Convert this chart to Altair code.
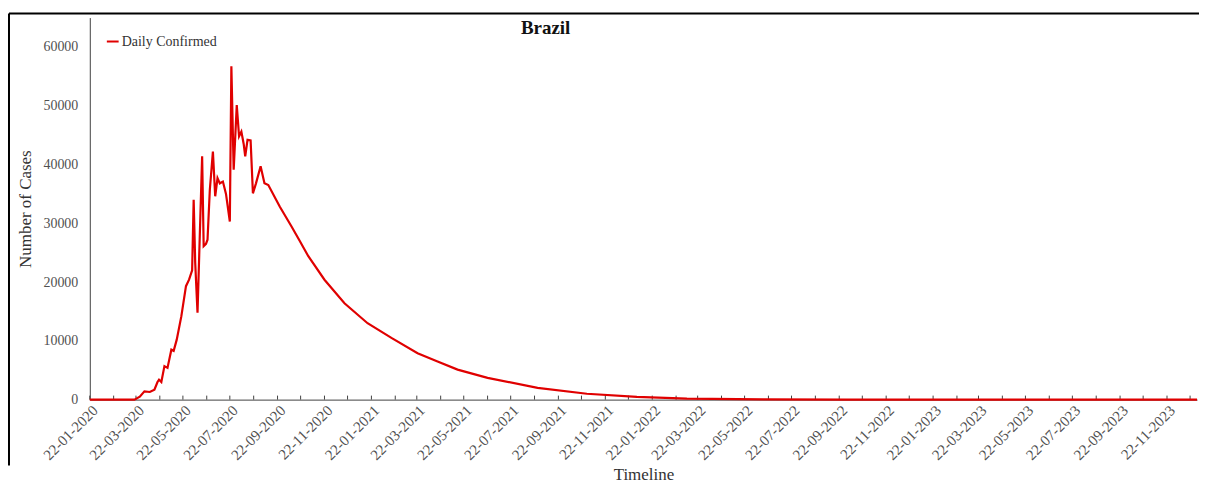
import altair as alt
import pandas as pd

TITLE = "Brazil"
SERIES = "Daily Confirmed"

dates = [
    "2020-01-22", "2020-03-20", "2020-03-27", "2020-04-02", "2020-04-09", "2020-04-15",
    "2020-04-19", "2020-04-21", "2020-04-24", "2020-04-28", "2020-05-02", "2020-05-07",
    "2020-05-10", "2020-05-14", "2020-05-20", "2020-05-26", "2020-05-30", "2020-06-03",
    "2020-06-05", "2020-06-07", "2020-06-10", "2020-06-16", "2020-06-18", "2020-06-21",
    "2020-06-23", "2020-06-26", "2020-06-30", "2020-07-03", "2020-07-06", "2020-07-09",
    "2020-07-13", "2020-07-17", "2020-07-22", "2020-07-24", "2020-07-27", "2020-07-31",
    "2020-08-03", "2020-08-06", "2020-08-09", "2020-08-11", "2020-08-14", "2020-08-18",
    "2020-08-21", "2020-08-25", "2020-08-31", "2020-09-05", "2020-09-10", "2020-09-25",
    "2020-10-10", "2020-10-20", "2020-11-01", "2020-11-22", "2020-12-18", "2021-01-17",
    "2021-02-17", "2021-03-23", "2021-04-18", "2021-05-14", "2021-06-22", "2021-08-26",
    "2021-10-29", "2022-01-02", "2022-03-08", "2022-06-15", "2022-10-01", "2023-12-31",
]
cases = [
    0, 0, 500, 1400, 1300, 1700,
    3000, 3400, 3000, 5700, 5400, 8500,
    8300, 10200, 14200, 19300, 20400, 22000,
    34000, 23300, 14800, 41400, 26100, 26500,
    27200, 35700, 42200, 34600, 37700, 36800,
    37100, 35000, 30300, 56700, 39100, 50100,
    44800, 45600, 43500, 41400, 44200, 44100,
    35100, 36800, 39700, 36800, 36500, 32800,
    29500, 27200, 24400, 20400, 16400, 13000,
    10500, 7900, 6500, 5100, 3700, 2000,
    1000, 450, 170, 50, 10, 0,
]

# tick labels every two months, minor ticks every month
label_dates = [f"{y}-{m:02d}-22" for y in range(2020, 2024) for m in range(1, 13, 2)]
tick_dates = [f"{y}-{m:02d}-22" for y in range(2020, 2024) for m in range(1, 13)]
y_ticks = [0, 10000, 20000, 30000, 40000, 50000, 60000]

W, H = 1110, 383
FONT = "Liberation Serif"

df = pd.DataFrame({"date": dates, "cases": cases, "series": SERIES})
ticks_df = pd.DataFrame({"date": tick_dates})


def dt(s):
    y, m, d = (int(v) for v in s.split("-"))
    return alt.DateTime(year=y, month=m, date=d, utc=True)


xscale = alt.Scale(type="utc", domain=[dt("2020-01-22"), dt("2023-12-31")])

line = alt.Chart(df).mark_line(strokeWidth=2.2).encode(
    x=alt.X(
        "date:T",
        scale=xscale,
        axis=alt.Axis(
            values=[dt(s) for s in label_dates],
            labelExpr="utcFormat(datum.value, '%d-%m-%Y')",
            labelAngle=-45,
            labelAlign="right",
            labelBaseline="top",
            labelPadding=3,
            labelFont=FONT,
            labelFontSize=15,
            labelColor="#505050",
            ticks=False,
            domainColor="#404040",
            domainWidth=1,
            grid=False,
            title="Timeline",
            titleFont=FONT,
            titleFontSize=17,
            titleFontWeight="normal",
            titleColor="#333333",
            titlePadding=4,
            labelOverlap=False,
        ),
    ),
    y=alt.Y(
        "cases:Q",
        scale=alt.Scale(domain=[0, 65000], nice=False),
        axis=alt.Axis(
            values=y_ticks,
            format="d",
            labelFont=FONT,
            labelFontSize=14,
            labelColor="#505050",
            labelPadding=12,
            ticks=False,
            domainColor="#404040",
            grid=False,
            title="Number of Cases",
            titleFont=FONT,
            titleFontSize=17,
            titleFontWeight="normal",
            titleColor="#333333",
            titlePadding=8,
        ),
    ),
    color=alt.Color(
        "series:N",
        scale=alt.Scale(range=["#e00000"]),
        legend=alt.Legend(
            title=None,
            orient="none",
            legendX=16,
            legendY=17,
            symbolType="stroke",
            symbolStrokeWidth=2,
            symbolSize=140,
            labelFont=FONT,
            labelFontSize=14,
            labelColor="#333333",
            labelOffset=2,
        ),
    ),
)

minor = alt.Chart(ticks_df).mark_rule(color="#404040", strokeWidth=1).encode(
    x=alt.X("date:T", scale=xscale),
    y=alt.value(H - 4),
    y2=alt.value(H),
)

title = alt.Chart(pd.DataFrame({"t": [TITLE]})).mark_text(
    font=FONT, fontSize=19, fontWeight="bold", color="#111111", baseline="middle"
).encode(text="t:N", x=alt.value(457), y=alt.value(10))

frame_top = alt.Chart(pd.DataFrame({"a": [0]})).mark_rule(color="black", strokeWidth=2).encode(
    x=alt.value(-81), x2=alt.value(W + 2), y=alt.value(-4)
)
frame_left = alt.Chart(pd.DataFrame({"a": [0]})).mark_rule(color="black", strokeWidth=2).encode(
    x=alt.value(-81), y=alt.value(-4), y2=alt.value(H + 66)
)

chart = (
    alt.layer(minor, line, title, frame_top, frame_left)
    .properties(width=W, height=H, padding={"left": 0, "top": 4, "right": 0, "bottom": 0})
    .configure_view(stroke=None)
)

chart.save("out.html", embed_options={"renderer": "svg", "actions": False})
